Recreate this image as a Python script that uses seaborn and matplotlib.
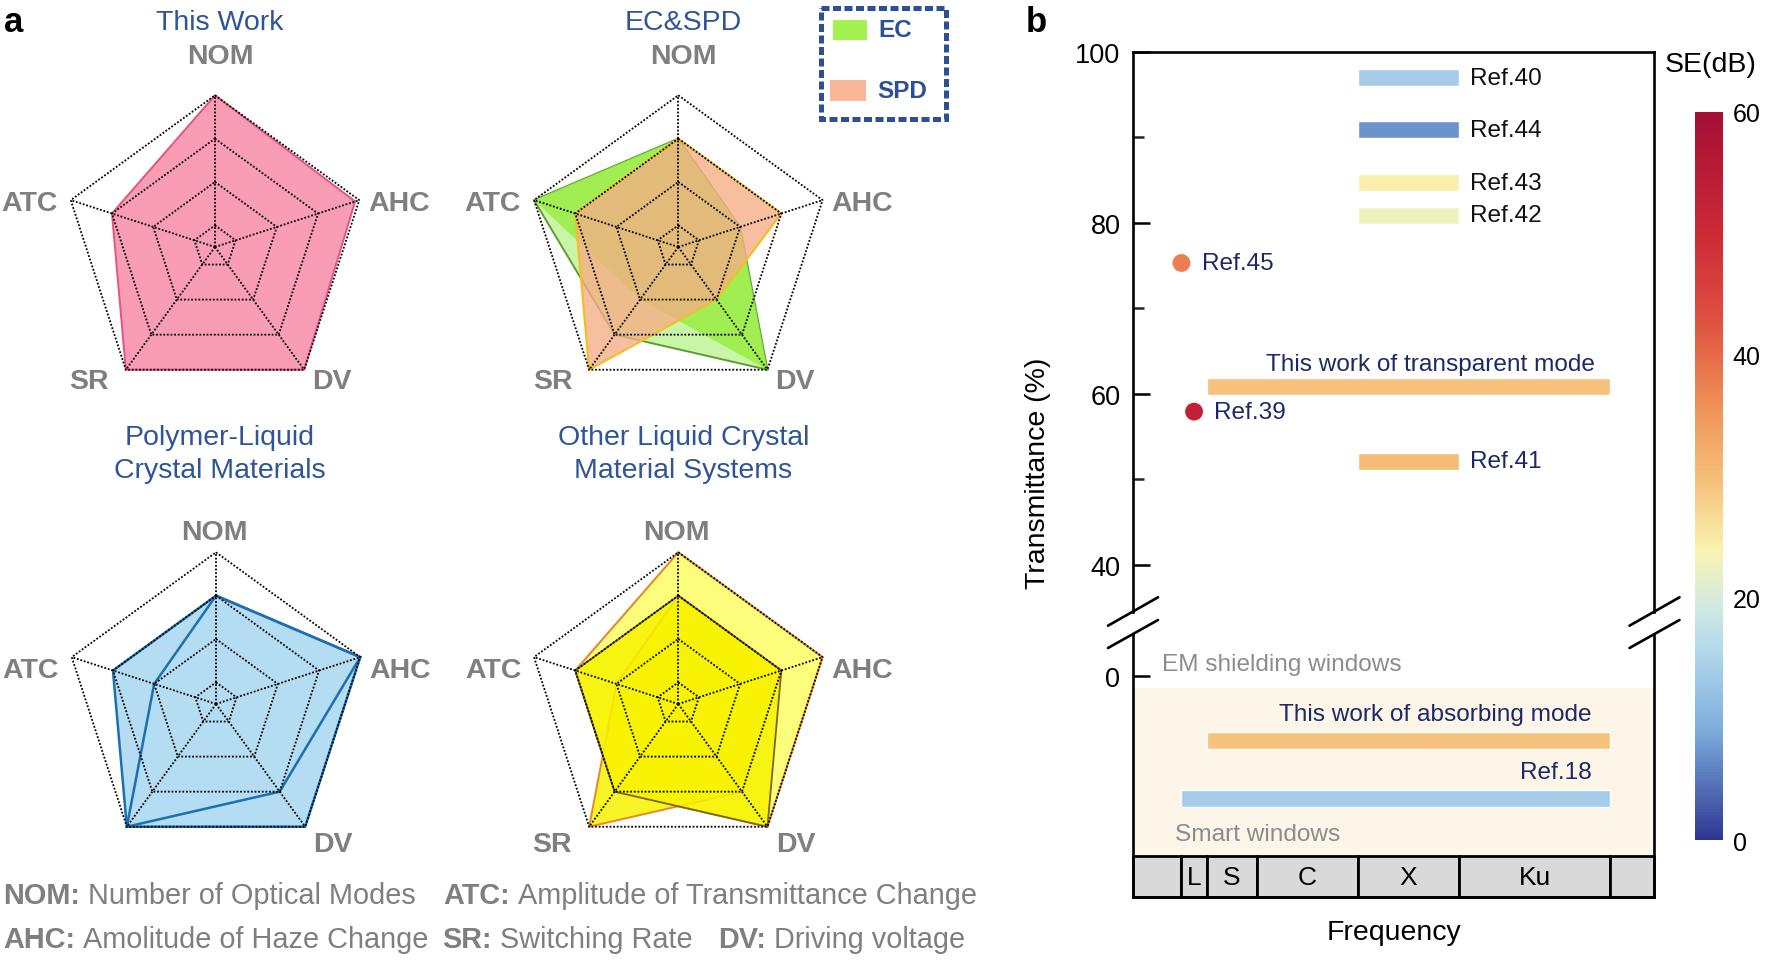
import numpy as np
import matplotlib
matplotlib.use("Agg")
import matplotlib.pyplot as plt
import seaborn as sns
from matplotlib.patches import Rectangle
from matplotlib.lines import Line2D
from matplotlib.colors import LinearSegmentedColormap, Normalize, to_rgba
import matplotlib.cm as cm

# ------------------------------------------------------------------ data
radar_axes = ["NOM", "AHC", "DV", "SR", "ATC"]
radar_levels = [0, 1, 2, 3]
this_work = [3, 2.9, 3, 3, 2]
ec_main = [2, 1, 3, 1, 3]
ec_alt = [2, 1, 3, 2, 3]
spd = [2, 2, 1, 3, 2]
plc_a = [2, 3, 3, 3, 2]
plc_b = [2, 3, 2, 3, 1]
olc_a = [3, 3, 3, 2, 2]
olc_b = [2, 2, 2, 3, 1]
olc_c = [2, 2, 3, 2, 2]

legend_items = [("NOM:", "Number of Optical Modes"), ("ATC:", "Amplitude of Transmittance Change"),
                ("AHC:", "Amolitude of Haze Change"), ("SR:", "Switching Rate"), ("DV:", "Driving voltage")]

band_names = ["", "L", "S", "C", "X", "Ku", ""]
band_edges = [-0.92, 1, 2, 4, 8, 12, 18, 19.75]

top_labels = ["Ref.40", "Ref.44", "Ref.43", "Ref.42", "This work of transparent mode", "Ref.41"]
top_start = [8, 8, 8, 8, 2, 8]
top_end = [12, 12, 12, 12, 18, 12]
top_T = [97.0, 90.9, 84.7, 80.9, 60.8, 52.1]
top_SE = [14, 7.2, 24.4, 22.6, 29.5, 30]

point_labels = ["Ref.45", "Ref.39"]
point_freq = [1.0, 1.5]
point_T = [75.3, 57.9]
point_SE = [37.6, 53]

bottom_labels = ["This work of absorbing mode", "Ref.18"]
bottom_start = [2, 1]
bottom_end = [18, 18]
bottom_pos = [-7.6, -14.4]
bottom_SE = [29.5, 14]

se_ticks = [0, 20, 40, 60]
t_major = [40, 60, 80, 100]
t_minor = [50, 70, 90]

# ------------------------------------------------------------------ style
sns.set_theme(style="white")
plt.rcParams["font.family"] = ["Liberation Sans", "DejaVu Sans"]
plt.rcParams["axes.unicode_minus"] = False

W, H, DPI = 1766, 962, 100
fig = plt.figure(figsize=(W / DPI, H / DPI), dpi=DPI)
fig.patch.set_facecolor("white")


def fax(l, t, r, b):
    return [l / W, 1 - b / H, (r - l) / W, (b - t) / H]


ax_bg = fig.add_axes([0, 0, 1, 1])
ax_bg.set_xlim(0, W)
ax_bg.set_ylim(H, 0)
ax_bg.axis("off")

GRAY = "#7f7f7f"
TBLUE = "#2f5597"
NAVY = "#1b2a66"

# ------------------------------------------------------------------ radar charts
R = 151.7
ang = np.linspace(0, 2 * np.pi, 5, endpoint=False)
angc = np.append(ang, ang[0])
off_row1 = {"NOM": (5, -39), "AHC": (39.5, 3), "DV": (27.5, 11), "SR": (-36.5, 11), "ATC": (-41.5, 3)}
off_row2 = {"NOM": (-1.5, -20), "AHC": (40, 12.6), "DV": (28, 17.3), "SR": (-37.4, 17.3), "ATC": (-41, 12.6)}


def radar(cx, cy, polys, offsets, show):
    ax = fig.add_axes(fax(cx - R, cy - R, cx + R, cy + R), projection="polar")
    ax.set_theta_offset(np.pi / 2)
    ax.set_theta_direction(-1)
    ax.set_ylim(-0.5, 3)
    ax.axis("off")
    for vals, fc, ec, lw in polys:
        v = np.append(vals, vals[0])
        ax.fill(angc, v, facecolor=fc, edgecolor=ec, linewidth=lw, zorder=2, clip_on=False)
    for lv in radar_levels:
        ax.plot(angc, [lv] * 6, color="black", ls=(0, (1, 1)), lw=1.3, zorder=5, clip_on=False)
    for a in ang:
        ax.plot([a, a], [-0.5, 3], color="black", ls=(0, (1, 1)), lw=1.3, zorder=5, clip_on=False)
    for a, lab in zip(ang, radar_axes):
        if lab not in show:
            continue
        dx, dy = offsets[lab]
        ax.annotate(lab, xy=(a, 3), xytext=(dx, -dy), textcoords="offset pixels",
                    ha="center", va="center", fontsize=20.5, fontweight="bold",
                    color=GRAY, annotation_clip=False)
    return ax


radar(215, 248, [(this_work, "#f89db5", "#e4567f", 1.4)], off_row1, radar_axes)
radar(678.3, 248, [(ec_alt, "#c9f5a6", "#5c9e35", 1.4),
                   (ec_main, to_rgba("#9cee48", 0.9), "none", 0),
                   (spd, to_rgba("#f6ad86", 0.78), "#f2bf2c", 1.6)], off_row1, radar_axes)
radar(216, 705, [(plc_a, "#b4dcf3", "#1c70b0", 1.8),
                 (plc_b, "none", "#1c70b0", 1.8)], off_row2, ["NOM", "AHC", "DV", "ATC"])
radar(678.3, 705, [(olc_a, "#fdfd7c", "#e58a2b", 1.5),
                   (olc_b, to_rgba("#f7f300", 0.85), "#e58a2b", 1.4),
                   (olc_c, to_rgba("#f7f300", 0.85), "#7a6815", 1.3)], off_row2, radar_axes)

# titles
ax_bg.text(219.6, 22.5, "This Work", ha="center", va="center", fontsize=20.5, color=TBLUE)
ax_bg.text(683.3, 22.5, "EC&SPD", ha="center", va="center", fontsize=20.5, color=TBLUE)
ax_bg.text(220, 454.5, "Polymer-Liquid\nCrystal Materials", ha="center", va="center",
           fontsize=20.5, color=TBLUE, linespacing=1.38)
ax_bg.text(683.3, 454.5, "Other Liquid Crystal\nMaterial Systems", ha="center", va="center",
           fontsize=20.5, color=TBLUE, linespacing=1.38)
ax_bg.text(13.5, 22.5, "a", ha="center", va="center", fontsize=25, fontweight="bold", color="black")
ax_bg.text(1036, 22.5, "b", ha="center", va="center", fontsize=25, fontweight="bold", color="black")

# EC / SPD legend box
ax_bg.add_patch(Rectangle((821, 9), 125, 111, facecolor="none", edgecolor="#2c4f95",
                          lw=3.6, ls=(0, (1.6, 0.7))))
ax_bg.add_patch(Rectangle((832.7, 20.7), 34.6, 20, facecolor="#a3f252", edgecolor="none"))
ax_bg.add_patch(Rectangle((830, 81), 36, 21.3, facecolor="#f9b89a", edgecolor="none"))
ax_bg.text(878.3, 30.7, "EC", ha="left", va="center", fontsize=17.5, fontweight="bold", color="#2c4f95")
ax_bg.text(877.7, 91.7, "SPD", ha="left", va="center", fontsize=17.5, fontweight="bold", color="#2c4f95")

# bottom definitions (bold key + regular text)
renderer = fig.canvas.get_renderer()
FS_LEG = 20.8
space = 0.278 * FS_LEG * DPI / 72


def rich(x, y, key, desc):
    t = ax_bg.text(x, y, key, ha="left", va="baseline", fontsize=FS_LEG, fontweight="bold", color=GRAY)
    bb = t.get_window_extent(renderer)
    ax_bg.text(bb.x1 + space, y, desc, ha="left", va="baseline", fontsize=FS_LEG, color=GRAY)


rich(3.4, 904, *legend_items[0])
rich(443, 904, *legend_items[1])
rich(3.4, 948, *legend_items[2])
rich(442.6, 948, *legend_items[3])
rich(718.5, 948, *legend_items[4])

# ------------------------------------------------------------------ panel b
anchors = [(0.0, "#2f3591"), (0.053, "#4a62ad"), (0.155, "#7fafdd"), (0.27, "#b8dcec"),
           (0.332, "#d8ecdc"), (0.398, "#f9f3b0"), (0.493, "#f6c07a"), (0.588, "#f0955a"),
           (0.648, "#e8744c"), (0.73, "#dc4a3e"), (0.833, "#cc2a36"), (1.0, "#a50f35")]
cmap = LinearSegmentedColormap.from_list("se", anchors)
norm = Normalize(0, 60)

ax_top = fig.add_axes(fax(1133, 53, 1654.5, 612.5))
ax_bot = fig.add_axes(fax(1133, 635, 1654.5, 898.3))
for a in (ax_top, ax_bot):
    a.set_xlim(band_edges[0], band_edges[-1])
    a.set_facecolor("white")
    a.set_xticks([])
    for s in a.spines.values():
        s.set_linewidth(1.9)
        s.set_color("black")
        s.set_visible(True)
    a.tick_params(axis="y", which="major", direction="in", length=12, width=1.8,
                  labelsize=19.5, pad=9, right=False, left=True, colors="black")
    a.tick_params(axis="y", which="minor", direction="in", length=8, width=1.8, right=False, left=True)
ax_top.spines["bottom"].set_visible(False)
ax_bot.spines["top"].set_visible(False)

ax_top.set_ylim(34.5, 100)
ax_top.set_yticks(t_major)
ax_top.set_yticks(t_minor, minor=True)
ax_bot.set_ylim(-25.95, 4.9)
ax_bot.set_yticks([0])

# bars in the transparent region
ax_top.barh(top_T, np.subtract(top_end, top_start), left=top_start, height=2.0,
            color=[cmap(norm(v)) for v in top_SE], zorder=2)
for lab, s, e, t in zip(top_labels, top_start, top_end, top_T):
    if lab.startswith("This work"):
        ax_top.text(e - 0.6, t + 2.7, lab, ha="right", va="center", fontsize=17.6, color=NAVY)
    else:
        col = NAVY if lab == "Ref.41" else "#111111"
        ax_top.text(e + 0.45, t, lab, ha="left", va="center", fontsize=17.6, color=col)

sns.scatterplot(x=point_freq, y=point_T, hue=point_SE, palette=cmap, hue_norm=norm,
                s=165, edgecolor="none", legend=False, ax=ax_top, zorder=3, clip_on=False)
for lab, f, t in zip(point_labels, point_freq, point_T):
    ax_top.text(f + 0.8, t, lab, ha="left", va="center", fontsize=17.6, color=NAVY)

# lower (absorbing) region
band_lo = -25.95
band_h = 4.8
ax_bot.axhspan(band_lo + band_h, -1.4, color="#fcf5e8", zorder=0, lw=0)
ax_bot.broken_barh([(band_edges[i], band_edges[i + 1] - band_edges[i]) for i in range(len(band_names))],
                   (band_lo, band_h), facecolors="#d9d9d9", edgecolor="black", linewidth=2,
                   zorder=2, clip_on=False)
for i, nm in enumerate(band_names):
    if nm:
        ax_bot.text((band_edges[i] + band_edges[i + 1]) / 2, band_lo + band_h / 2, nm,
                    ha="center", va="center", fontsize=19, color="black", zorder=3)

ax_bot.barh(bottom_pos, np.subtract(bottom_end, bottom_start), left=bottom_start, height=2.0,
            color=[cmap(norm(v)) for v in bottom_SE], zorder=2)
for lab, e, p in zip(bottom_labels, bottom_end, bottom_pos):
    ax_bot.text(e - 0.75, p + 3.1, lab, ha="right", va="center", fontsize=17.6, color=NAVY)
ax_bot.text(0.22, 1.37, "EM shielding windows", ha="left", va="center", fontsize=17.6, color="#8c8c8c")
ax_bot.text(0.73, -18.5, "Smart windows", ha="left", va="center", fontsize=17.6, color="#8c8c8c")

# axis break marks
for sx in (1133, 1654.5):
    for y0, y1 in ((626.7, 598.3), (649, 621)):
        fig.add_artist(Line2D([(sx - 25) / W, (sx + 25) / W], [1 - y0 / H, 1 - y1 / H],
                              transform=fig.transFigure, color="black", lw=1.9))

ax_bg.text(1393.7, 933, "Frequency", ha="center", va="center", fontsize=20.5, color="black")
ax_bg.text(1038, 473, "Transmittance (%)", ha="center", va="center", rotation=90,
           fontsize=20.5, color="black")
ax_bg.text(1711, 65, "SE(dB)", ha="center", va="center", fontsize=20.5, color="black")

# colorbar
cax = fig.add_axes(fax(1695, 112.6, 1723, 841.3))
cb = fig.colorbar(cm.ScalarMappable(norm=norm, cmap=cmap), cax=cax)
cb.outline.set_visible(False)
cb.set_ticks(se_ticks)
cax.tick_params(length=0, labelsize=18, pad=7, colors="black")

fig.savefig("out.png", dpi=DPI)
